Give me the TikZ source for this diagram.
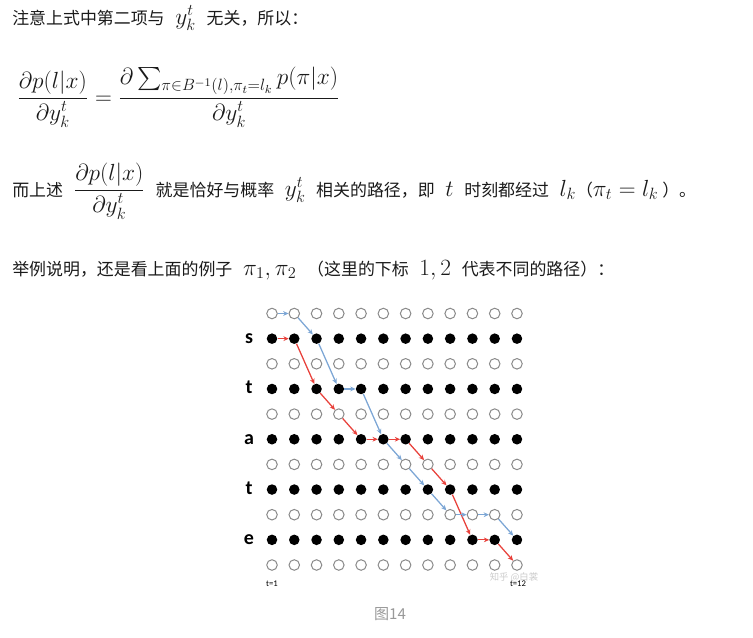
\RequirePackage{fix-cm}
\documentclass[tikz,border=0pt]{standalone}
\usepackage{exscale}
\usepackage[no-math]{fontspec}
\setmainfont{Noto Sans CJK SC}
\newfontfamily\lblfont{Carlito}
\usepackage{tikz}
\usetikzlibrary{arrows.meta}
\definecolor{textdark}{HTML}{1A1A1A}
\definecolor{pathblue}{HTML}{7CA6D5}
\definecolor{pathred}{HTML}{E8413B}
\definecolor{ringgray}{HTML}{8A8A8A}
\definecolor{captiongray}{HTML}{999999}
\definecolor{markgray}{HTML}{CBCBCB}
\newcommand{\msz}{\fontsize{17.5}{21}\selectfont}
\newcommand{\tsz}{\fontsize{12.7}{16}\selectfont}
\newcommand{\gap}{\hspace{8pt}}
\tikzset{
  redpath/.style={draw=pathred, line width=0.95pt, ->},
  bluepath/.style={draw=pathblue, line width=0.95pt, ->},
  rowlabel/.style={anchor=base, font=\lblfont\bfseries\fontsize{15}{15}\selectfont, text=black},
}
\begin{document}
\begin{tikzpicture}[x=0.75pt, y=-0.75pt, >={Stealth[length=4pt, width=3.6pt]},
    every node/.style={inner sep=0pt, text=textdark}]
        \useasboundingbox (0,0) rectangle (753,637);
        % text above the figure
        \node[anchor=base west, font=\tsz] (lineone) at (12,24) {注意上式中第二项与\gap{\msz$y_k^t$}\gap 无关，所以：};
        \node[anchor=base west, font=\msz] (eqone) at (17,104) {$\displaystyle \frac{\partial p(l|x)}{\partial y_k^t} = \frac{\partial \sum_{\pi\in B^{-1}(l),\pi_t=l_k} p(\pi|x)}{\partial y_k^t}$};
        \node[anchor=base west, font=\tsz] (linetwo) at (12,196) {而上述\gap{\msz$\displaystyle\frac{\partial p(l|x)}{\partial y_k^t}$}\gap 就是恰好与概率\gap{\msz$y_k^t$}\gap 相关的路径，即\gap{\msz$t$}\gap 时刻都经过\gap{\msz$l_k$}（{\msz$\pi_t=l_k$} ）。};
        \node[anchor=base west, font=\tsz] (linethree) at (12,275) {举例说明，还是看上面的例子\gap{\msz$\pi_1,\pi_2$}\gap（这里的下标\gap{\msz$1,2$}\gap 代表不同的路径）：};
        % grid of states
        \begin{scope}[every node/.style={circle, minimum size=7.9pt, inner sep=0pt}]
            \foreach \c in {1,...,12}
              \foreach \r in {1,...,11} {
                \pgfmathsetmacro{\px}{272+(\c-1)*22.27}
                \pgfmathsetmacro{\py}{313.5+(\r-1)*25.15}
                \ifodd\r
                  \node[draw=ringgray, line width=0.75pt, fill=white] (n\c-\r) at (\px,\py) {};
                \else
                  \node[fill=black] (n\c-\r) at (\px,\py) {};
                \fi
              }
        \end{scope}
        \foreach \r/\l in {2/s, 4/t, 6/a, 8/t, 10/e}
            \node[rowlabel] (lbl\r) at ([xshift=-23*0.75pt, yshift=-5*0.75pt]n1-\r.center) {\l};
        % the two paths
        \foreach \a/\b in {1-2/2-2, 2-2/3-4, 3-4/4-5, 4-5/5-6, 5-6/6-6, 6-6/7-6, 7-6/8-7, 8-7/9-8, 9-8/10-10, 10-10/11-10, 11-10/12-11}
            \draw[redpath] (n\a) -- (n\b);
        \foreach \a/\b in {1-1/2-1, 2-1/3-2, 3-2/4-4, 4-4/5-4, 5-4/6-6, 6-6/7-7, 7-7/8-8, 8-8/9-9, 9-9/10-9, 10-9/11-9, 11-9/12-10}
            \draw[bluepath] (n\a) -- (n\b);
        \node[font=\fontsize{7}{8}\selectfont, text=markgray] (mark) at (514,577) {知乎 @白裳};
        \node[font=\lblfont\fontsize{6.5}{7}\selectfont, text=black] (tfirst) at (272,584) {t=1};
        \node[font=\lblfont\fontsize{6.5}{7}\selectfont, text=black] (tlast) at (518,584) {t=12};
        \node[font=\fontsize{11.3}{13}\selectfont, text=captiongray] (caption) at (390,614) {图14};
    \end{tikzpicture}
\end{document}
